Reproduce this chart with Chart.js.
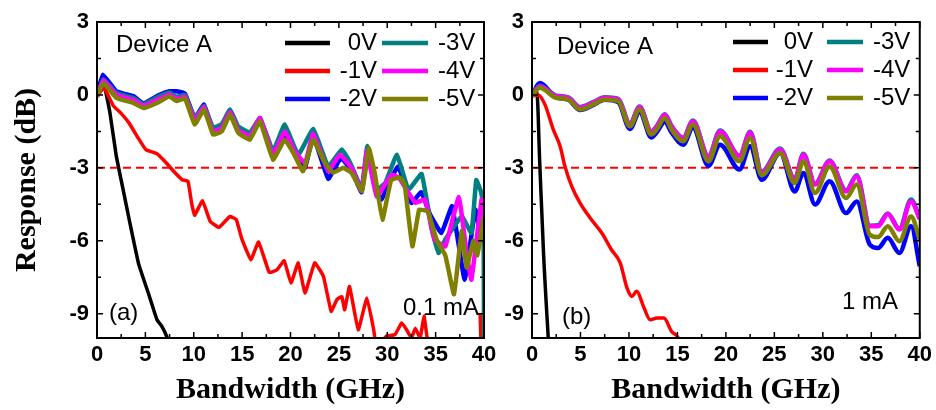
<!DOCTYPE html>
<html>
<head>
<meta charset="utf-8">
<script src="https://cdn.jsdelivr.net/npm/chart.js@4.4.0/dist/chart.umd.min.js"></script>
<style>
	body { margin: 0; background: #fff; }
	#wrap { position: relative; width: 936px; height: 410px; }
	canvas { position: absolute; left: 0; top: 0; }
</style>
</head>
<body>
<div id="wrap">
	<canvas id="chart_a" width="936" height="410"></canvas>
	<canvas id="chart_b" width="936" height="410"></canvas>
</div>
<script>
const voltage_labels = ['0V', '-1V', '-2V', '-3V', '-4V', '-5V']
const line_colors = ['#000000', '#ff0000', '#0000ff', '#008080', '#ff00ff', '#808000']
const x_ticks = [0, 5, 10, 15, 20, 25, 30, 35, 40]
const x_minor_ticks = [2.5, 7.5, 12.5, 17.5, 22.5, 27.5, 32.5, 37.5]
const y_ticks = [-9, -6, -3, 0, 3]
const y_minor_ticks = [-7.5, -4.5, -1.5, 1.5]
const threshold_db = -3

// panel (a): 0.1 mA
const a_0v_ghz = [0, 0.75, 1.34, 2.0, 2.7, 3.4, 4.3, 5.3, 6.2, 6.7, 7.2, 7.6]
const a_0v_db = [-0.06, 0.35, -0.74, -2.53, -3.9, -5.27, -6.95, -8.15, -9.25, -9.52, -9.93, -10.5]

const a_1v_ghz = [0, 0.7, 1.7, 2.4, 3.3, 4.3, 5.05, 6.2, 7.1, 7.95, 8.8, 9.4, 9.8, 10.1, 10.9, 11.7, 12.6, 13.75, 14.4, 14.95, 15.9, 16.7, 17.8, 18.6, 19.35, 20.05, 20.8, 21.5, 22.5, 23.4, 24.2, 24.8, 25.3, 25.6, 26.1, 27.0, 27.9, 28.6, 28.9, 29.9, 30.8, 31.5, 32.0, 32.5, 32.9, 33.4, 33.8, 34.1, 34.4, 39.55, 39.6]
const a_1v_db = [-0.06, 0.3, -0.45, -0.72, -1.15, -1.8, -2.25, -2.42, -2.77, -3.15, -3.49, -3.55, -4.5, -4.95, -4.35, -5.2, -5.45, -5.0, -5.13, -5.9, -6.78, -6.05, -7.3, -7.2, -6.82, -7.74, -6.91, -8.15, -6.91, -7.46, -8.9, -8.42, -8.3, -8.84, -7.88, -9.66, -8.35, -9.66, -10.4, -9.93, -9.86, -9.38, -9.66, -10.0, -9.6, -10.0, -9.1, -9.93, -10.5, -10.5, -9.0]

const a_2v_ghz = [0, 0.6, 2.0, 3.75, 4.8, 6.2, 7.5, 8.2, 9.1, 10.1, 11.06, 12.0, 12.9, 13.75, 14.6, 15.8, 16.85, 18.2, 19.4, 20.5, 21.5, 22.35, 23.9, 25.2, 26.3, 27.35, 27.95, 28.8, 29.4, 31.1, 32.5, 33.5, 34.4, 35.6, 36.7, 38.0, 39.1, 39.7, 40]
const a_2v_db = [0, 0.83, 0.15, -0.05, -0.35, -0.05, 0.15, 0.15, 0.05, -0.95, -0.4, -1.5, -1.35, -0.7, -1.5, -1.75, -1.0, -2.5, -1.6, -2.5, -3.0, -1.7, -3.45, -2.6, -3.1, -4.0, -2.4, -3.9, -4.3, -2.94, -4.44, -4.0, -4.9, -5.68, -4.58, -7.6, -4.72, -5.8, -5.2]

const a_3v_ghz = [0, 0.65, 2.0, 3.75, 4.8, 6.2, 7.5, 8.2, 9.1, 10.1, 11.06, 12.0, 12.9, 13.75, 14.6, 15.8, 16.85, 18.2, 19.4, 20.8, 22.35, 23.9, 25.3, 26.3, 27.35, 27.95, 28.9, 29.8, 31.0, 32.2, 33.55, 34.6, 35.3, 36.0, 37.7, 38.7, 39.2, 39.7, 39.95, 40]
const a_3v_db = [-0.05, 0.65, 0.08, -0.12, -0.38, -0.1, 0.1, -0.08, 0, -0.95, -0.45, -1.35, -1.2, -0.6, -1.3, -1.55, -0.95, -2.3, -1.22, -2.46, -1.4, -2.94, -2.25, -2.9, -3.85, -2.1, -3.9, -3.62, -2.46, -3.9, -3.25, -5.54, -6.5, -5.95, -5.0, -5.68, -3.5, -4.0, -4.6, -10.5]

const a_4v_ghz = [0, 0.65, 2.0, 3.75, 4.8, 6.2, 7.5, 8.2, 9.1, 10.1, 11.06, 12.0, 12.9, 13.75, 14.6, 15.8, 16.85, 18.2, 19.4, 20.4, 21.5, 22.35, 23.9, 25.1, 26.3, 27.35, 27.9, 28.9, 30.45, 31.2, 32.9, 33.9, 34.9, 36.0, 37.4, 38.2, 38.7, 39.75, 40]
const a_4v_db = [-0.05, 0.6, 0, -0.2, -0.45, -0.2, 0.02, -0.15, -0.08, -1.05, -0.5, -1.5, -1.35, -0.7, -1.45, -1.7, -0.95, -2.45, -1.5, -2.3, -2.8, -1.6, -3.14, -2.46, -3.0, -3.95, -2.3, -4.17, -3.28, -3.4, -4.44, -4.3, -5.95, -6.23, -4.2, -6.5, -7.6, -4.3, -5.0]

const a_5v_ghz = [0, 0.65, 2.0, 3.75, 4.8, 6.2, 7.5, 8.2, 9.1, 10.1, 11.06, 12.0, 12.9, 13.75, 14.6, 15.8, 16.85, 18.2, 19.4, 20.3, 21.3, 22.35, 23.55, 24.4, 25.45, 26.3, 27.4, 28.1, 28.7, 29.5, 30.4, 31.3, 31.8, 32.6, 33.3, 34.2, 35.1, 36.0, 36.9, 37.7, 38.2, 38.9, 39.3, 39.8, 40]
const a_5v_db = [-0.06, 0.49, -0.12, -0.33, -0.54, -0.33, -0.06, -0.25, -0.15, -1.22, -0.6, -1.63, -1.5, -0.81, -1.56, -1.84, -1.09, -2.66, -1.84, -2.39, -3.14, -1.84, -2.8, -3.2, -3.0, -3.2, -3.95, -2.2, -3.2, -5.13, -3.5, -3.4, -3.7, -6.23, -4.72, -4.8, -5.95, -6.6, -8.2, -5.6, -7.1, -6.0, -6.6, -5.5, -5.0]

// panel (b): 1 mA
const b_0v_ghz = [0, 0.5, 0.8, 1.2, 1.75]
const b_0v_db = [-0.05, 0.1, -2.8, -6.6, -10.5]

const b_1v_ghz = [0, 0.65, 1.34, 2.2, 2.9, 3.4, 4.1, 4.95, 6.0, 7.2, 8.2, 9.1, 9.8, 10.3, 10.8, 11.5, 12.2, 12.9, 13.6, 14.4, 15.1, 15.5]
const b_1v_db = [-0.05, 0, -0.4, -1.43, -2.11, -2.94, -3.76, -4.44, -5.06, -5.68, -6.37, -6.91, -7.94, -8.29, -8.08, -8.7, -9.25, -9.18, -9.18, -9.73, -10.0, -10.5]

const b_ghz = [0, 0.8, 2.5, 3.75, 4.95, 6.3, 7.5, 8.9, 10.1, 11.1, 12.3, 12.85, 13.7, 14.4, 15.6, 16.6, 18.2, 19.4, 21.4, 22.5, 23.7, 25.6, 27.1, 28.0, 29.2, 30.7, 32.4, 33.5, 34.85, 35.7, 36.7, 37.9, 39.1, 40]
const b_2v_db = [-0.05, 0.49, -0.1, -0.2, -0.62, -0.42, -0.2, -0.3, -1.4, -0.7, -1.75, -1.55, -1.1, -1.55, -2.05, -1.35, -2.92, -2.05, -3.07, -2.11, -3.49, -2.39, -3.97, -3.21, -4.51, -3.55, -4.86, -4.38, -6.16, -6.3, -5.88, -6.5, -5.4, -7.05]
const b_3v_db = [-0.04, 0.38, -0.03, -0.1, -0.5, -0.3, -0.1, -0.16, -1.18, -0.48, -1.5, -1.3, -0.8, -1.28, -1.76, -1.05, -2.52, -1.46, -2.5, -1.52, -3.16, -2.2, -3.45, -2.42, -3.65, -2.7, -3.93, -3.3, -5.38, -5.36, -4.88, -5.5, -4.3, -5.08]
const b_4v_db = [-0.05, 0.35, -0.05, -0.12, -0.52, -0.33, -0.12, -0.18, -1.2, -0.5, -1.52, -1.32, -0.82, -1.3, -1.78, -1.08, -2.55, -1.5, -2.52, -1.56, -3.2, -2.25, -3.49, -2.46, -3.69, -2.73, -3.97, -3.35, -5.4, -5.4, -4.9, -5.54, -4.38, -5.1]
const b_5v_db = [-0.06, 0.29, -0.12, -0.19, -0.6, -0.4, -0.19, -0.26, -1.29, -0.6, -1.63, -1.43, -0.95, -1.43, -1.91, -1.22, -2.73, -1.7, -2.73, -1.77, -3.3, -2.39, -3.62, -2.73, -4.03, -2.94, -4.24, -3.69, -5.75, -5.85, -5.4, -6.02, -5.0, -5.95]

const sans = '"Liberation Sans", Arial, sans-serif'
const serif = '"Liberation Serif", "Times New Roman", serif'

function to_points(xs, ys) {
	return xs.map((x, i) => ({ x: x, y: ys[i] }))
}

// frame with inward ticks, notes and the two-column legend
const frame_plugin = {
	id: 'frame',
	afterDatasetsDraw(chart, args, opts) {
		const { ctx, chartArea: a } = chart
		const xs = chart.scales.x
		const ys = chart.scales.y
		ctx.save()
		ctx.strokeStyle = '#000'
		ctx.lineWidth = 1.5
		ctx.beginPath()
		const tick = (vals, len) => {
			vals.forEach((v) => {
				const px = xs.getPixelForValue(v)
				ctx.moveTo(px, a.bottom); ctx.lineTo(px, a.bottom - len)
				ctx.moveTo(px, a.top); ctx.lineTo(px, a.top + len)
			})
		}
		const ytick = (vals, len) => {
			vals.forEach((v) => {
				const py = ys.getPixelForValue(v)
				ctx.moveTo(a.left, py); ctx.lineTo(a.left + len, py)
				ctx.moveTo(a.right, py); ctx.lineTo(a.right - len, py)
			})
		}
		tick(x_ticks, 6); tick(x_minor_ticks, 4)
		ytick(y_ticks, 6); ytick(y_minor_ticks, 4)
		ctx.stroke()
		ctx.lineWidth = 2
		ctx.strokeRect(a.left, a.top, a.right - a.left, a.bottom - a.top)

		ctx.fillStyle = '#000'
		ctx.font = '24px ' + sans
		ctx.textBaseline = 'middle'
		ctx.textAlign = 'left'
		opts.notes.forEach((n) => ctx.fillText(n.text, n.x, n.y))

		const lg = opts.legend
		chart.data.datasets.forEach((ds) => {
			const k = voltage_labels.indexOf(ds.label)
			if (k < 0) return
			const col = k < 3 ? lg.col1 : lg.col2
			const y = lg.rows[k % 3]
			ctx.strokeStyle = ds.borderColor
			ctx.lineWidth = 4.5
			ctx.beginPath()
			ctx.moveTo(col.x0, y); ctx.lineTo(col.x1, y)
			ctx.stroke()
			ctx.textAlign = col.align
			ctx.fillText(ds.label, col.tx, y)
		})
		ctx.restore()
	},
}

function make_chart(id, series, cfg) {
	const datasets = series.map((s, i) => ({
		label: voltage_labels[i],
		data: to_points(s[0], s[1]),
		borderColor: line_colors[i],
		borderWidth: i < 2 ? 3.5 : 4.5,
		pointRadius: 0,
		tension: cfg.tension,
		cubicInterpolationMode: cfg.mode,
		order: 10 - i,
	}))
	datasets.push({
		label: 'threshold',
		data: [{ x: 0, y: threshold_db }, { x: 40, y: threshold_db }],
		borderColor: '#ff0000',
		borderWidth: 2,
		borderDash: [8, 5],
		pointRadius: 0,
		order: 20,
	})
	return new Chart(document.getElementById(id), {
		type: 'line',
		data: { datasets: datasets },
		plugins: [frame_plugin],
		options: {
			responsive: false,
			animation: false,
			devicePixelRatio: 1,
			layout: { padding: { top: 22, right: cfg.right, left: 0, bottom: 0 } },
			plugins: {
				legend: { display: false },
				tooltip: { enabled: false },
				frame: { notes: cfg.notes, legend: cfg.legend },
			},
			scales: {
				x: {
					type: 'linear',
					min: 0,
					max: 40,
					afterBuildTicks: (s) => { s.ticks = x_ticks.map((v) => ({ value: v })) },
					afterFit: (s) => { s.height = 72 },
					grid: { display: false, drawTicks: false },
					border: { display: false },
					ticks: { padding: 4, color: '#000', font: { family: sans, size: 22, weight: 'bold' } },
					title: {
						display: true,
						text: 'Bandwidth (GHz)',
						color: '#000',
						padding: { top: 0, bottom: 2 },
						font: { family: serif, size: 30, weight: 'bold' },
					},
				},
				y: {
					type: 'linear',
					min: -10,
					max: 3,
					afterBuildTicks: (s) => { s.ticks = y_ticks.map((v) => ({ value: v })) },
					afterFit: (s) => { s.width = cfg.yWidth },
					grid: { display: false, drawTicks: false },
					border: { display: false },
					ticks: { padding: 8, color: '#000', font: { family: sans, size: 22, weight: 'bold' } },
					title: {
						display: cfg.yTitle,
						text: 'Response (dB)',
						color: '#000',
						padding: { top: 9, bottom: 0 },
						font: { family: serif, size: 30, weight: 'bold' },
					},
				},
			},
		},
	})
}

// eslint-disable-next-line
const chart_a = make_chart('chart_a', [
	[a_0v_ghz, a_0v_db], [a_1v_ghz, a_1v_db], [a_2v_ghz, a_2v_db],
	[a_3v_ghz, a_3v_db], [a_4v_ghz, a_4v_db], [a_5v_ghz, a_5v_db],
], {
	right: 452, yWidth: 97, yTitle: true, tension: 0.1, mode: 'default',
	notes: [{ text: 'Device A', x: 116, y: 45 }, { text: '(a)', x: 109, y: 313 }, { text: '0.1 mA', x: 403, y: 308 }],
	legend: {
		rows: [43, 71, 99],
		col1: { x0: 285, x1: 330, tx: 377, align: 'right' },
		col2: { x0: 382, x1: 428, tx: 438, align: 'left' },
	},
})

// eslint-disable-next-line
const chart_b = make_chart('chart_b', [
	[b_0v_ghz, b_0v_db], [b_1v_ghz, b_1v_db], [b_ghz, b_2v_db],
	[b_ghz, b_3v_db], [b_ghz, b_4v_db], [b_ghz, b_5v_db],
], {
	right: 16, yWidth: 532, yTitle: false, tension: 0.4, mode: 'monotone',
	notes: [{ text: 'Device A', x: 557, y: 47 }, { text: '(b)', x: 562, y: 317 }, { text: '1 mA', x: 842, y: 302 }],
	legend: {
		rows: [42, 70, 98],
		col1: { x0: 733, x1: 768, tx: 813, align: 'right' },
		col2: { x0: 827, x1: 863, tx: 873, align: 'left' },
	},
})
</script>
</body>
</html>
